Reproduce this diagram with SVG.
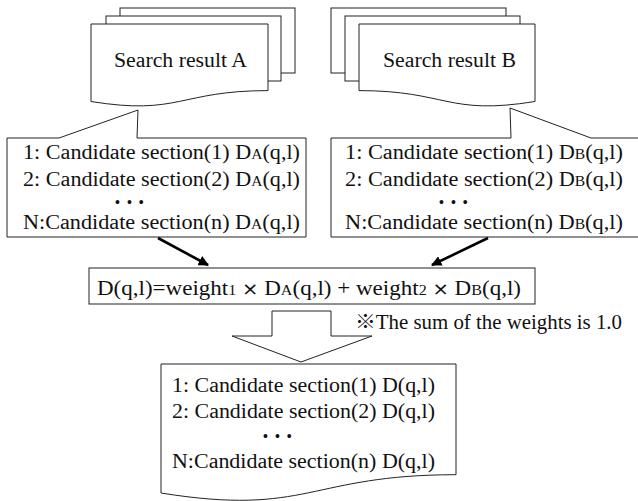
<svg xmlns="http://www.w3.org/2000/svg" width="638" height="501" viewBox="0 0 638 501">
<style>
.sh{fill:#fff;stroke:#222;stroke-width:1}
.t{font-family:"Liberation Serif","Times New Roman",serif;font-size:20px;fill:#111}
.s{font-size:14px}
.d{font-family:"Liberation Serif",serif;font-size:14px;font-weight:bold;letter-spacing:7px;fill:#111}
.x{font-family:"DejaVu Sans",sans-serif;font-size:17px}
.cjk{font-family:"Noto Sans CJK JP",sans-serif}
.ar{stroke:#000;stroke-width:2.6;fill:none}
</style>
<defs>
<marker id="ah" viewBox="0 0 10 10" refX="9" refY="5" markerWidth="4" markerHeight="4" orient="auto" markerUnits="strokeWidth">
<path d="M0,0 L10,5 L0,10 Z" fill="#000"/>
</marker>
</defs>
<rect width="638" height="501" fill="#fff"/>

<g id="docA">
<rect class="sh" x="120" y="8" width="175" height="65"/>
<rect class="sh" x="106" y="16" width="175" height="65"/>
<path class="sh" d="M91,24 H268 V90.6 C179.5,90.6 179.5,115.8 91,101.5 Z"/>
<text class="t" x="114" y="67" textLength="133" lengthAdjust="spacingAndGlyphs">Search result A</text>
</g>

<g id="docB">
<rect class="sh" x="331" y="8" width="175" height="65"/>
<rect class="sh" x="345" y="16" width="175" height="65"/>
<path class="sh" d="M535,24 H359 V90.6 C447,90.6 447,115.8 535,101.5 Z"/>
<text class="t" x="383" y="67" textLength="133" lengthAdjust="spacingAndGlyphs">Search result B</text>
</g>

<g id="listA">
<path class="sh" d="M7,138 H59 L138,110 L137,138 H306 V237 H7 Z"/>
<text class="t" x="23" y="159" textLength="277" lengthAdjust="spacingAndGlyphs">1: Candidate section(1) D<tspan class="s">A</tspan>(q,l)</text>
<text class="t" x="23" y="186" textLength="277" lengthAdjust="spacingAndGlyphs">2: Candidate section(2) D<tspan class="s">A</tspan>(q,l)</text>
<text class="d" x="115" y="207">•••</text>
<text class="t" x="23" y="229" textLength="277" lengthAdjust="spacingAndGlyphs">N:Candidate section(n) D<tspan class="s">A</tspan>(q,l)</text>
</g>

<g id="listB">
<path class="sh" d="M331,138 H511 L510,108 L591,138 H640 V237 H331 Z"/>
<text class="t" x="345" y="159" textLength="278" lengthAdjust="spacingAndGlyphs">1: Candidate section(1) D<tspan class="s">B</tspan>(q,l)</text>
<text class="t" x="345" y="186" textLength="278" lengthAdjust="spacingAndGlyphs">2: Candidate section(2) D<tspan class="s">B</tspan>(q,l)</text>
<text class="d" x="439" y="207">•••</text>
<text class="t" x="345" y="229" textLength="278" lengthAdjust="spacingAndGlyphs">N:Candidate section(n) D<tspan class="s">B</tspan>(q,l)</text>
</g>

<g id="formula">
<rect class="sh" x="89" y="268" width="446" height="36"/>
<text class="t" x="97" y="295" textLength="424" lengthAdjust="spacingAndGlyphs">D(q,l)=weight<tspan class="s">1</tspan> <tspan class="x">×</tspan> D<tspan class="s">A</tspan>(q,l) + weight<tspan class="s">2</tspan> <tspan class="x">×</tspan> D<tspan class="s">B</tspan>(q,l)</text>
</g>

<g id="bigArrow">
<path class="sh" d="M272,311 H331 V336 H372 L301,362 L232,336 H272 Z"/>
</g>

<g id="note">
<text class="t" x="355" y="329" textLength="267" lengthAdjust="spacingAndGlyphs"><tspan class="cjk">※</tspan>The sum of the weights is 1.0</text>
</g>

<g id="result">
<path class="sh" d="M161,364 H456 V474.7 C308.5,474.7 308.5,516.8 161,493 Z"/>
<text class="t" x="172" y="392" textLength="263" lengthAdjust="spacingAndGlyphs">1: Candidate section(1) D(q,l)</text>
<text class="t" x="172" y="418" textLength="263" lengthAdjust="spacingAndGlyphs">2: Candidate section(2) D(q,l)</text>
<text class="d" x="263" y="441">•••</text>
<text class="t" x="172" y="468" textLength="263" lengthAdjust="spacingAndGlyphs">N:Candidate section(n) D(q,l)</text>
</g>

<g id="connectors">
<line class="ar" x1="158" y1="238" x2="208" y2="265" marker-end="url(#ah)"/>
<line class="ar" x1="488" y1="238" x2="432" y2="265" marker-end="url(#ah)"/>
</g>
</svg>
